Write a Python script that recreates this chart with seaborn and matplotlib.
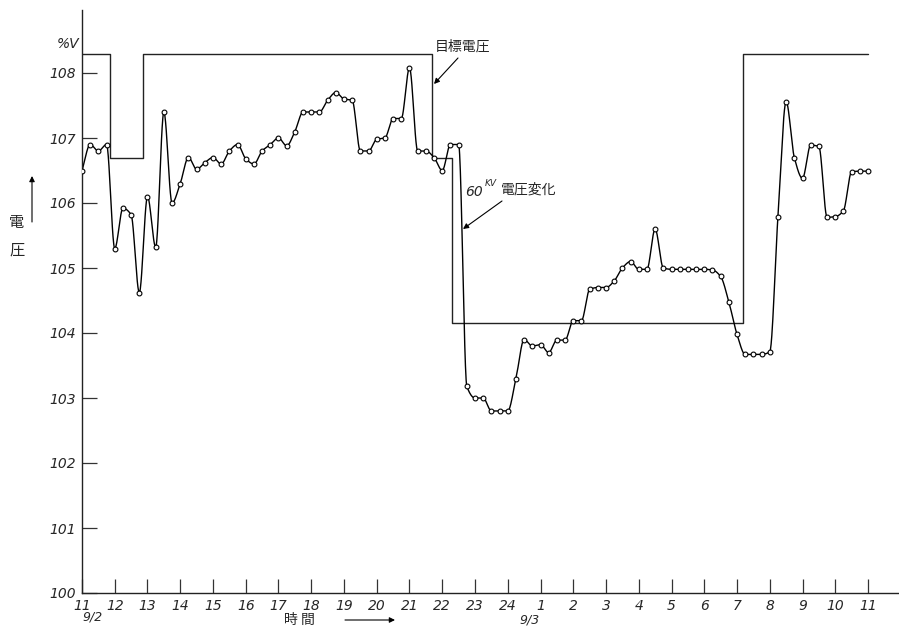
import numpy as np
import pandas as pd
import seaborn as sns
import matplotlib
matplotlib.use("Agg")
import matplotlib.pyplot as plt

# ---- data -------------------------------------------------------------
# 60 kV bus voltage (% of nominal), read every 15 minutes from 11:00 (9/2)
# to 11:00 (9/3); hours past 24 continue on the next day.
sample_hours = np.arange(11.0, 35.0 + 0.125, 0.25)
voltage_60kv = [
    106.5, 106.9, 106.8, 106.9,      # 11
    105.3, 105.92, 105.82, 104.62,   # 12
    106.1, 105.32, 107.4, 106.0,     # 13
    106.3, 106.7, 106.52, 106.62,    # 14
    106.7, 106.6, 106.8, 106.9,      # 15
    106.68, 106.6, 106.8, 106.9,     # 16
    107.0, 106.88, 107.1, 107.4,     # 17
    107.4, 107.4, 107.58, 107.7,     # 18
    107.6, 107.58, 106.8, 106.8,     # 19
    106.98, 107.0, 107.3, 107.3,     # 20
    108.08, 106.8, 106.8, 106.7,     # 21
    106.5, 106.9, 106.9, 103.18,     # 22
    103.0, 103.0, 102.8, 102.8,      # 23
    102.8, 103.3, 103.9, 103.8,      # 24
    103.82, 103.7, 103.89, 103.89,   # 1
    104.19, 104.19, 104.67, 104.7,   # 2
    104.7, 104.8, 105.0, 105.1,      # 3
    104.98, 104.98, 105.6, 105.0,    # 4
    104.98, 104.98, 104.98, 104.98,  # 5
    104.98, 104.97, 104.87, 104.48,  # 6
    103.98, 103.67, 103.67, 103.67,  # 7
    103.71, 105.79, 107.56, 106.7,   # 8
    106.38, 106.89, 106.87, 105.78,  # 9
    105.79, 105.88, 106.48, 106.49,  # 10
    106.49,                          # 11
]

# target voltage schedule: level holds from each change time to the next
target_change_hours = [11.0, 11.85, 12.85, 21.68, 22.29, 31.19, 35.0]
target_levels = [108.3, 106.7, 108.3, 106.7, 104.15, 108.3]

hour_ticks = list(range(11, 36))
hour_tick_labels = [str(h if h <= 24 else h - 24) for h in hour_ticks]
volt_ticks = [100, 101, 102, 103, 104, 105, 106, 107, 108]

JP = ["Noto Sans CJK JP", "DejaVu Sans"]


def pchip_curve(x, y, per_seg=24):
    """Shape-preserving cubic through the readings (no overshoot)."""
    x = np.asarray(x, float)
    y = np.asarray(y, float)
    h = np.diff(x)
    d = np.diff(y) / h
    m = np.zeros_like(y)
    for k in range(1, len(x) - 1):
        if d[k - 1] * d[k] > 0:
            w1 = 2 * h[k] + h[k - 1]
            w2 = h[k] + 2 * h[k - 1]
            m[k] = (w1 + w2) / (w1 / d[k - 1] + w2 / d[k])
    m[0], m[-1] = d[0], d[-1]
    t = np.linspace(0, 1, per_seg, endpoint=False)
    h00 = 2 * t**3 - 3 * t**2 + 1
    h10 = t**3 - 2 * t**2 + t
    h01 = -2 * t**3 + 3 * t**2
    h11 = t**3 - t**2
    xs, ys = [], []
    for k in range(len(x) - 1):
        xs.append(x[k] + t * h[k])
        ys.append(h00 * y[k] + h10 * h[k] * m[k] + h01 * y[k + 1] + h11 * h[k] * m[k + 1])
    xs.append([x[-1]])
    ys.append([y[-1]])
    return np.concatenate(xs), np.concatenate(ys)


# ---- figure -----------------------------------------------------------
sns.set_style("ticks")
plt.rcParams["font.family"] = ["DejaVu Sans", "Noto Sans CJK JP"]

W, H = 899, 630
fig = plt.figure(figsize=(W / 100, H / 100), dpi=100)
ax = fig.add_axes([82 / W, 1 - 593 / H, (898 - 82) / W, (593 - 10) / H])

readings = pd.DataFrame({"hour": sample_hours, "volt": voltage_60kv})
sx, sy = pchip_curve(readings["hour"], readings["volt"])

# target voltage (step line)
sns.lineplot(x=target_change_hours, y=target_levels + [target_levels[-1]],
             drawstyle="steps-post", estimator=None, sort=False,
             color="#222222", lw=1.0, ax=ax)

# smooth voltage curve and the individual readings
sns.lineplot(x=sx, y=sy, estimator=None, sort=False, color="black", lw=1.0, ax=ax)
sns.scatterplot(data=readings, x="hour", y="volt", marker="o", s=12,
                facecolor="white", edgecolor="black", linewidth=0.8,
                zorder=3, ax=ax)

ax.set_xlim(11, 11 + (898 - 82) / 32.75)
ax.set_ylim(100, 100 + 583 / 65)

for side in ("top", "right"):
    ax.spines[side].set_visible(False)
for side in ("left", "bottom"):
    ax.spines[side].set_linewidth(1.0)
    ax.spines[side].set_color("#222222")

ax.set_xticks(hour_ticks)
ax.set_xticklabels(hour_tick_labels, fontsize=10, style="italic")
ax.set_yticks(volt_ticks)
ax.set_yticklabels([str(v) for v in volt_ticks], fontsize=10, style="italic")
ax.tick_params(axis="x", direction="in", length=10, width=0.9, pad=4, color="#333333")
ax.tick_params(axis="y", direction="in", length=11, width=0.9, pad=4, color="#333333")
ax.set_xlabel("")
ax.set_ylabel("")


def ftext(px, py, s, **kw):
    fig.text(px / W, 1 - py / H, s, **kw)


def farrow(p0, p1, **kw):
    ax.annotate("", xy=(p1[0] / W, 1 - p1[1] / H), xytext=(p0[0] / W, 1 - p0[1] / H),
                xycoords="figure fraction", textcoords="figure fraction",
                arrowprops=dict(arrowstyle="-|>", color="black", lw=0.8,
                                mutation_scale=8, shrinkA=0, shrinkB=0, **kw))


# unit above the voltage scale
ftext(68, 44, "%V", fontsize=10, style="italic", ha="center", va="center")

# axis titles with direction arrows
ftext(17, 222, "電", fontsize=11, family=JP, ha="center", va="center")
ftext(17, 250, "圧", fontsize=11, family=JP, ha="center", va="center")
farrow((32, 222), (32, 176))
ftext(299, 620, "時 間", fontsize=10, family=JP, ha="center", va="center")
farrow((345, 620), (395, 620))

# dates under the day boundaries
ftext(93, 617, "9/2", fontsize=9, style="italic", ha="center", va="center")
ftext(530, 620, "9/3", fontsize=9, style="italic", ha="center", va="center")

# labels pointing at the two lines
ftext(463, 47, "目標電圧", fontsize=10, family=JP, ha="center", va="center")
farrow((458, 58), (434, 84))
ftext(474, 192, "60", fontsize=10, style="italic", ha="center", va="center")
ftext(491, 183, "KV", fontsize=6.5, style="italic", ha="center", va="center")
ftext(529, 190, "電圧変化", fontsize=10, family=JP, ha="center", va="center")
farrow((502, 201), (463, 229))

fig.savefig("out.png", dpi=100)
